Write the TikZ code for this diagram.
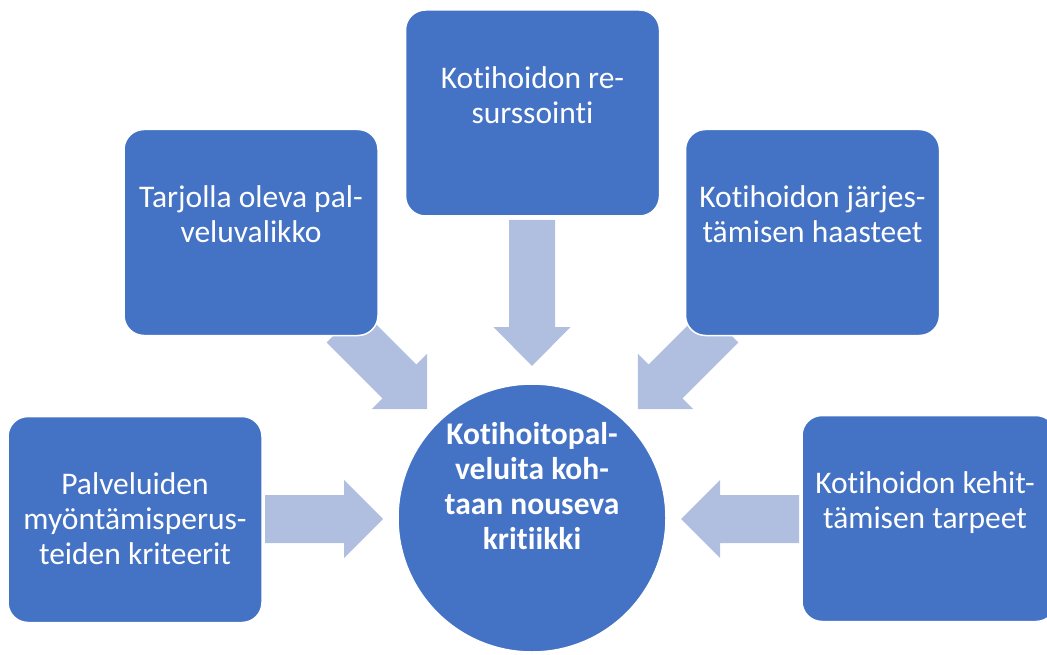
\documentclass[tikz,border=0pt]{standalone}
\usepackage{fontspec}
\setmainfont{Carlito}[Ligatures=NoCommon]
\definecolor{boxblue}{HTML}{4472C4}
\definecolor{arrowblue}{RGB}{176,190,224}
\begin{document}
\begin{tikzpicture}[x=1pt,y=-1pt,
  box/.style={rectangle, rounded corners=20pt, fill=boxblue, draw=white, line width=1.5pt,
    minimum width=254pt, minimum height=206pt, inner sep=0pt},
  hub/.style={circle, fill=boxblue, draw=white, line width=1.5pt, minimum size=268pt, inner sep=0pt},
  lbl/.style={text=white, align=center, font=\fontsize{31.5}{35}\selectfont, inner sep=0pt},
  hublbl/.style={lbl, font=\fontsize{31.5}{35}\selectfont\bfseries},
  arrowfill/.style={fill=arrowblue}]
\useasboundingbox (0,0) rectangle (1047,655);
\clip (0,0) rectangle (1047,655);
% block arrows (behind the boxes)
\begin{scope}[shift={(265,519)}]
  \fill[arrowfill] (0,-24) -- (79,-24) -- (79,-39) -- (118,0) -- (79,39) -- (79,24) -- (0,24) -- cycle;
\end{scope}
\begin{scope}[shift={(799,519)}, rotate=180]
  \fill[arrowfill] (0,-24) -- (79,-24) -- (79,-39) -- (118,0) -- (79,39) -- (79,24) -- (0,24) -- cycle;
\end{scope}
\begin{scope}[shift={(532,220)}, rotate=-90]
  \fill[arrowfill] (0,-23) -- (107,-23) -- (107,-38.5) -- (146,0) -- (107,38.5) -- (107,23) -- (0,23) -- cycle;
\end{scope}
\begin{scope}[shift={(343.6,325.6)}, rotate=-45]
  \fill[arrowfill] (0,-24) -- (79,-24) -- (79,-39) -- (118,0) -- (79,39) -- (79,24) -- (0,24) -- cycle;
\end{scope}
\begin{scope}[shift={(721.4,325.6)}, rotate=-135]
  \fill[arrowfill] (0,-24) -- (79,-24) -- (79,-39) -- (118,0) -- (79,39) -- (79,24) -- (0,24) -- cycle;
\end{scope}
% boxes
\node[box] (top) at (532.5,113) {};
\node[box] (ul) at (251,232.5) {};
\node[box] (ur) at (812.5,232.5) {};
\node[box] (ll) at (135,519.5) {};
\node[box] (lr) at (929,518.5) {};
\node[hub] (hub) at (532,518) {};
% texts
\node[lbl] (ttop) at (532.5,95.5) {Kotihoidon re-\\surssointi};
\node[lbl] (tul) at (251,214.5) {Tarjolla oleva pal-\\veluvalikko};
\node[lbl] (tur) at (812.5,214) {Kotihoidon järjes-\\tämisen haasteet};
\node[lbl] (tll) at (135,519) {Palveluiden\\myöntämisperus-\\teiden kriteerit};
\node[lbl] (tlr) at (925,502.5) {Kotihoidon kehit-\\tämisen tarpeet};
\node[hublbl] (thub) at (532,486.5) {Kotihoitopal-\\veluita koh-\\taan nouseva\\kritiikki};
\end{tikzpicture}
\end{document}
